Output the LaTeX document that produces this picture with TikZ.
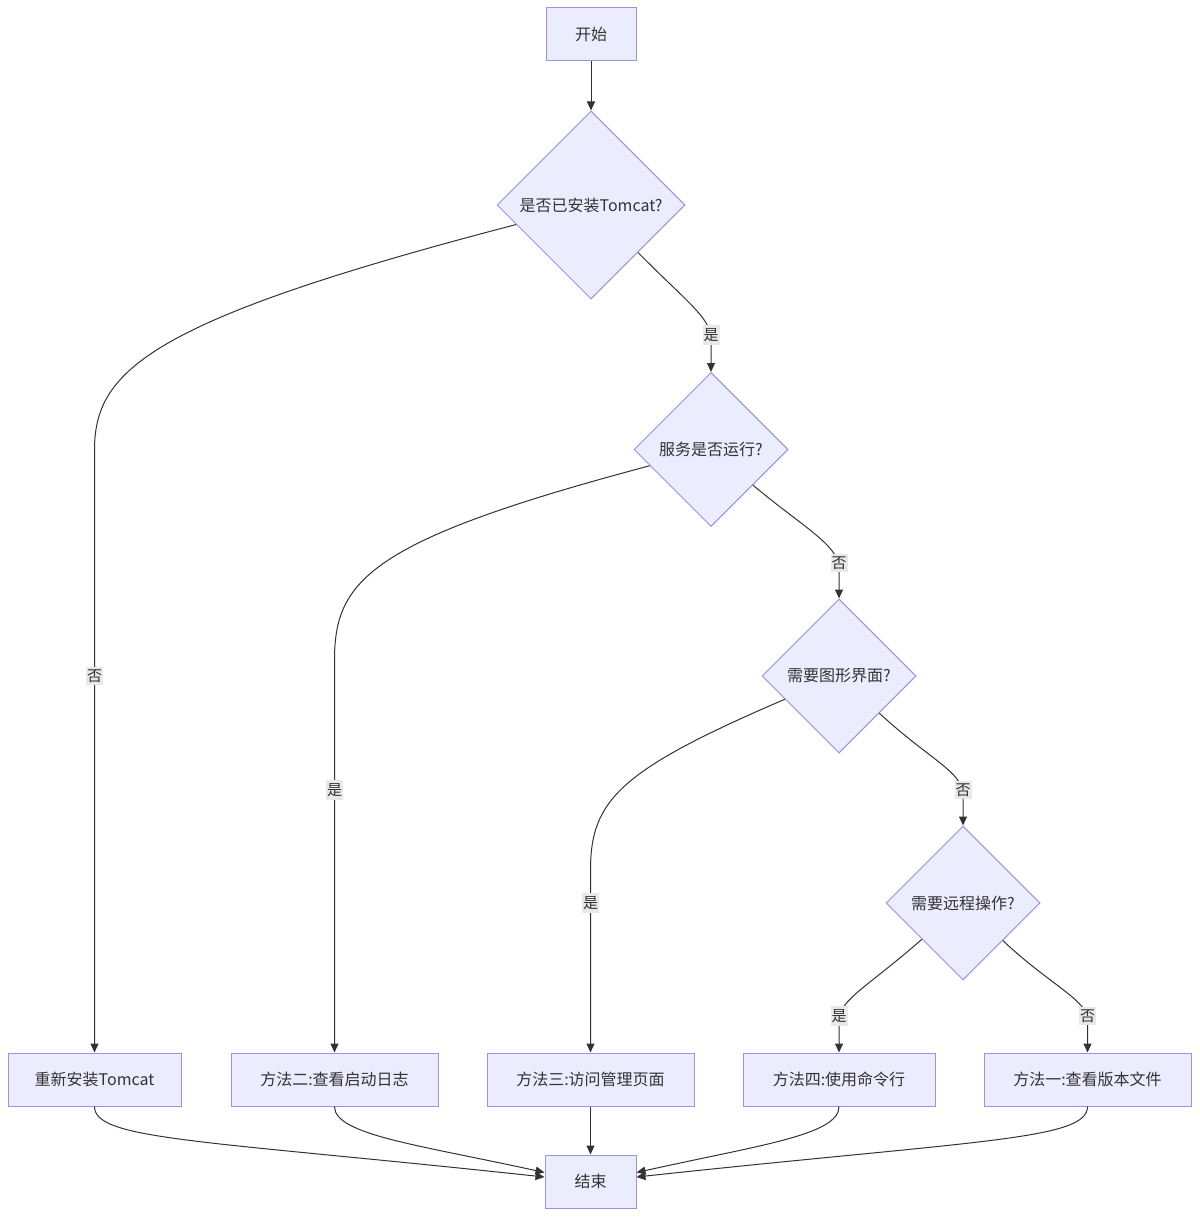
\documentclass[tikz,border=0pt]{standalone}
\usepackage{fontspec}
\setmainfont{Noto Sans CJK SC}
\usetikzlibrary{shapes.geometric,arrows.meta,calc}
\definecolor{nodefill}{HTML}{ECECFF}
\definecolor{nodeline}{HTML}{9F8FDF}
\definecolor{edgecol}{HTML}{333333}
\definecolor{lblbg}{HTML}{E8E8E8}
\tikzset{
  box/.style={draw=nodeline, fill=nodefill, line width=1pt, inner sep=0pt,
    minimum height=53pt, minimum width=#1, text=edgecol,
    font=\fontsize{16}{19}\selectfont},
  dia/.style={diamond, aspect=1, draw=nodeline, fill=nodefill, line width=1pt,
    inner sep=0pt, minimum width=#1, minimum height=#1, text=edgecol,
    font=\fontsize{16}{19}\selectfont},
  arr/.style={draw=edgecol, line width=1pt, -{Triangle[length=9pt,width=8pt]}},
  lbl/.style={fill=lblbg, inner xsep=1pt, inner ysep=3pt, text=edgecol,
    font=\fontsize{15}{18}\selectfont}
}
\begin{document}
\begin{tikzpicture}[x=1pt,y=-1pt]
\useasboundingbox[fill=white] (0,0) rectangle (1199,1217);

\node[box=90pt] (start) at (591,34.5) {开始};
\node[dia=188pt] (d1) at (591,205) {是否已安装Tomcat?};
\node[dia=154pt] (d2) at (711,449.5) {服务是否运行?};
\node[dia=154pt] (d3) at (839,676) {需要图形界面?};
\node[dia=154pt] (d4) at (963,903) {需要远程操作?};
\node[box=173pt] (r1) at (94.5,1079.5) {重新安装Tomcat};
\node[box=207pt] (m2) at (334.5,1079.5) {方法二:查看启动日志};
\node[box=207pt] (m3) at (590.5,1079.5) {方法三:访问管理页面};
\node[box=192pt] (m4) at (839,1079.5) {方法四:使用命令行};
\node[box=207pt] (m1) at (1087.5,1079.5) {方法一:查看版本文件};
\node[box=91pt] (endn) at (590.5,1181.5) {结束};

% top edges
\draw[arr] (start) -- (d1);
\draw[arr] (d1) .. controls (150,320) and (94.5,370) .. (94.5,450) -- (r1.north);
\draw[arr] (d1) .. controls (690,305) and (711,318) .. (711,340) -- (d2.north);
\draw[arr] (d2) .. controls (370,540) and (334.5,580) .. (334.5,660) -- (m2.north);
\draw[arr] (d2) .. controls (800,525) and (839,545) .. (839,568) -- (d3.north);
\draw[arr] (d3) .. controls (620,770) and (590.5,800) .. (590.5,870) -- (m3.north);
\draw[arr] (d3) .. controls (930,760) and (963,772) .. (963,795) -- (d4.north);
\draw[arr] (d4) .. controls (870,985) and (839,1000) .. (839,1020) -- (m4.north);
\draw[arr] (d4) .. controls (1050,985) and (1087.5,1000) .. (1087.5,1020) -- (m1.north);

% labels
\node[lbl] (l1) at (94.5,676) {否};
\node[lbl] (l2) at (711,335) {是};
\node[lbl] (l3) at (334.5,790) {是};
\node[lbl] (l4) at (839,563) {否};
\node[lbl] (l5) at (590.5,903) {是};
\node[lbl] (l6) at (963,790) {否};
\node[lbl] (l7) at (839,1016) {是};
\node[lbl] (l8) at (1087.5,1016) {否};

% bottom edges
\draw[arr] (r1.south) .. controls (94.5,1140) and (200,1140) .. ($(endn.west)+(0,-4.5)$);
\draw[arr] (m2.south) .. controls (334.5,1135) and (420,1145) .. ($(endn.west)+(0,-9)$);
\draw[arr] (m3.south) -- (endn.north);
\draw[arr] (m4.south) .. controls (839,1135) and (760,1145) .. ($(endn.east)+(0,-9)$);
\draw[arr] (m1.south) .. controls (1087.5,1140) and (980,1140) .. ($(endn.east)+(0,-4.5)$);
\end{tikzpicture}
\end{document}
